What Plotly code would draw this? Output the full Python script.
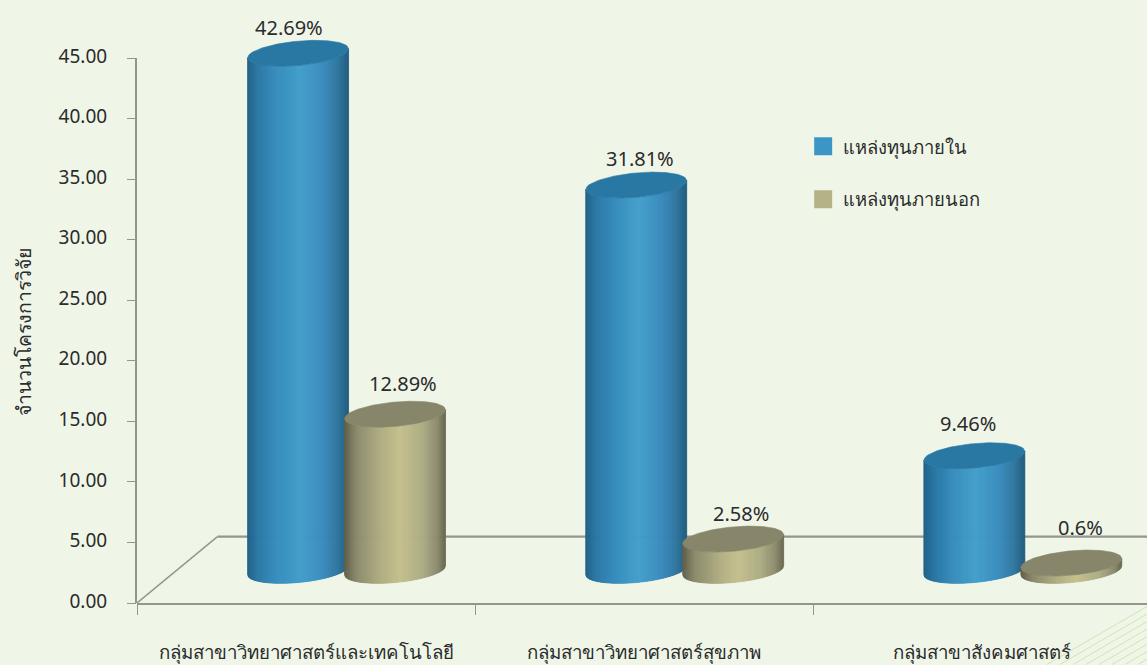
import plotly.graph_objects as go

categories = ["กลุ่มสาขาวิทยาศาสตร์และเทคโนโลยี", "กลุ่มสาขาวิทยาศาสตร์สุขภาพ", "กลุ่มสาขาสังคมศาสตร์"]
internal_values = [42.69, 31.81, 9.46]
external_values = [12.89, 2.58, 0.6]
series_names = ["แหล่งทุนภายใน", "แหล่งทุนภายนอก"]
y_ticks = [0, 5, 10, 15, 20, 25, 30, 35, 40, 45]
y_title = "จำนวนโครงการวิจัย"

W, H = 1147, 665
X0, Y0 = 136.5, 603.5     # pixel of data origin
PX_X, PX_Y = 338.3, 12.12  # px per data unit
FONT = "Noto Sans, Tahoma, sans-serif"
BG = "#eff6e8"
AXIS = "#93968f"
TXT = "#2b2b2b"

R_PX = 50.5   # cylinder half width
TILT_PX = 4.5
MINOR_PX = 12.2
BASE_Y = 2.7
STRIPS = 100

BLUE_STOPS = [(-1, "#1f5f86"), (-0.8, "#2a76a3"), (-0.45, "#378cbc"), (0.05, "#439fca"),
              (0.5, "#3a8cbf"), (0.8, "#30769f"), (1, "#205c7e")]
GOLD_STOPS = [(-1, "#5f5e48"), (-0.75, "#8b8a6c"), (-0.3, "#aeac82"), (0.1, "#c5c08e"),
              (0.55, "#aead84"), (0.85, "#8c8b6f"), (1, "#6a6950")]
BLUE_TOP = "#2878a3"
GOLD_TOP = "#87866a"
BLUE_KEY = "#3c96c5"
GOLD_KEY = "#b5b287"


def fx(px):
    """page pixel -> paper fraction (x)"""
    return (px - X0) / (W - X0)


def fy(py):
    """page pixel -> paper fraction (y)"""
    return (Y0 - py) / Y0


def to_rgb(h):
    return tuple(int(h[i:i + 2], 16) for i in (1, 3, 5))


def ramp(stops, u):
    for (a, ca), (b, cb) in zip(stops, stops[1:]):
        if a <= u <= b:
            f = (u - a) / (b - a)
            ra, rb = to_rgb(ca), to_rgb(cb)
            return "rgb(%d,%d,%d)" % tuple(round(p + (q - p) * f) for p, q in zip(ra, rb))
    return stops[-1][1]


def front_offset(u):
    """vertical offset in data units of the front rim at position u in [-1, 1]"""
    return (TILT_PX * u - MINOR_PX * (1 - u * u) ** 0.5) / PX_Y


def cylinder(cx, value, stops, top_color):
    out = []
    top = BASE_Y + value
    rx = R_PX / PX_X
    for j in range(STRIPS):
        u1 = -1 + 2 * j / STRIPS
        u2 = -1 + 2 * (j + 1) / STRIPS
        xs = [cx + rx * u1, cx + rx * u2, cx + rx * u2, cx + rx * u1, cx + rx * u1]
        ys = [top + front_offset(u1), top + front_offset(u2),
              BASE_Y + front_offset(u2), BASE_Y + front_offset(u1), top + front_offset(u1)]
        c = ramp(stops, (u1 + u2) / 2)
        out.append(go.Scatter(x=xs, y=ys, mode="lines", fill="toself", fillcolor=c,
                              line=dict(color=c, width=0.8), hoverinfo="skip", showlegend=False))
    # top ellipse
    N = 72
    ex, ey = [], []
    for k in range(N + 1):
        u = -1 + 2 * k / N
        ex.append(cx + rx * u)
        ey.append(top + front_offset(u))
    for k in range(N + 1):
        u = 1 - 2 * k / N
        ex.append(cx + rx * u)
        ey.append(top + (TILT_PX * u + MINOR_PX * (1 - u * u) ** 0.5) / PX_Y)
    out.append(go.Scatter(x=ex, y=ey, mode="lines", fill="toself", fillcolor=top_color,
                          line=dict(color=top_color, width=0.6), hoverinfo="skip", showlegend=False))
    return out


fig = go.Figure()

# floor
depth_x = (217 - X0) / PX_X
depth_y = (603.5 - 537) / PX_Y
x_end = (W - X0) / PX_X
fig.add_trace(go.Scatter(x=[0, depth_x], y=[0, depth_y], mode="lines",
                         line=dict(color=AXIS, width=1.5), hoverinfo="skip", showlegend=False))
fig.add_trace(go.Scatter(x=[depth_x, x_end], y=[depth_y, depth_y], mode="lines",
                         line=dict(color=AXIS, width=2.2), hoverinfo="skip", showlegend=False))

offsets = (-48.5 / PX_X, 48.5 / PX_X)
depth_shift = 40.5 / PX_X
annotations = []
label_shift = [[(-9, 26), (8, 31)], [(4, 27), (8, 26)], [(-6, 32), (9, 36)]]
for i in range(len(categories)):
    cx = i + 0.5 + depth_shift
    for s, (vals, stops, tc) in enumerate(((internal_values, BLUE_STOPS, BLUE_TOP),
                                           (external_values, GOLD_STOPS, GOLD_TOP))):
        bx = cx + offsets[s]
        for tr in cylinder(bx, vals[i], stops, tc):
            fig.add_trace(tr)
        dx, dy = label_shift[i][s]
        annotations.append(dict(x=bx, y=BASE_Y + vals[i], text=f"{vals[i]}%", showarrow=False,
                                xref="x", yref="y", xshift=dx, yshift=dy,
                                font=dict(family=FONT, size=20, color=TXT)))
    annotations.append(dict(x=i + 0.5, y=fy(653), xref="x", yref="paper", xanchor="center", yanchor="middle",
                            text=categories[i], showarrow=False,
                            font=dict(family=FONT, size=18.7, color=TXT)))

annotations.append(dict(x=fx(23), y=fy(333), xref="paper", yref="paper", xanchor="center", yanchor="middle",
                        text=y_title, textangle=-90, showarrow=False,
                        font=dict(family=FONT, size=19.5, color=TXT)))

# legend keys
for name, col, grp in ((series_names[0], BLUE_KEY, "a"), (series_names[1], GOLD_KEY, "b")):
    fig.add_trace(go.Scatter(x=[None], y=[None], mode="markers", name=name, legendgroup=grp,
                             marker=dict(symbol="square", size=16, color=col, line=dict(color=col, width=2))))

# corner hatch
shapes = []
for n in range(8):
    start = 1047 + 13 * n
    shapes.append(dict(type="line", xref="paper", yref="paper",
                       x0=fx(start), y0=fy(H), x1=fx(W), y1=fy(H - (W - start) * 0.58),
                       line=dict(color="#d0e4b4", width=1), layer="below"))
# y axis line, stops at the top tick
shapes.append(dict(type="line", xref="paper", yref="y", x0=fx(135.5), x1=fx(135.5), y0=0, y1=y_ticks[-1],
                   line=dict(color=AXIS, width=2), layer="above"))

fig.update_layout(
    width=W, height=H, autosize=False,
    paper_bgcolor=BG, plot_bgcolor=BG,
    margin=dict(l=X0, r=0, t=0, b=H - Y0, pad=0),
    showlegend=True,
    legend=dict(x=fx(803), y=fy(128), xanchor="left", yanchor="top",
                bgcolor="rgba(0,0,0,0)", tracegroupgap=26,
                font=dict(family=FONT, size=18.4, color=TXT), itemwidth=30),
    xaxis=dict(range=[0, x_end], showgrid=False, zeroline=False, showline=True, linecolor=AXIS, linewidth=2,
               tickmode="array", tickvals=[0, 1, 2], ticktext=["", "", ""], ticks="outside",
               ticklen=10, tickcolor=AXIS, tickwidth=1),
    yaxis=dict(range=[0, Y0 / PX_Y], showgrid=False, zeroline=False, showline=False,
               tickmode="array", tickvals=y_ticks, ticktext=[f"{v:.2f}" for v in y_ticks],
               ticks="outside", ticklen=9, tickcolor=AXIS, tickwidth=1, ticklabelstandoff=16,
               ticklabelshift=-2, tickfont=dict(family=FONT, size=19, color=TXT)),
    annotations=annotations,
    shapes=shapes,
)

fig.write_html("out.html", config={"displayModeBar": False},
               post_script=f"document.body.style.margin='0';document.documentElement.style.background='{BG}';document.body.style.overflow='hidden';")
